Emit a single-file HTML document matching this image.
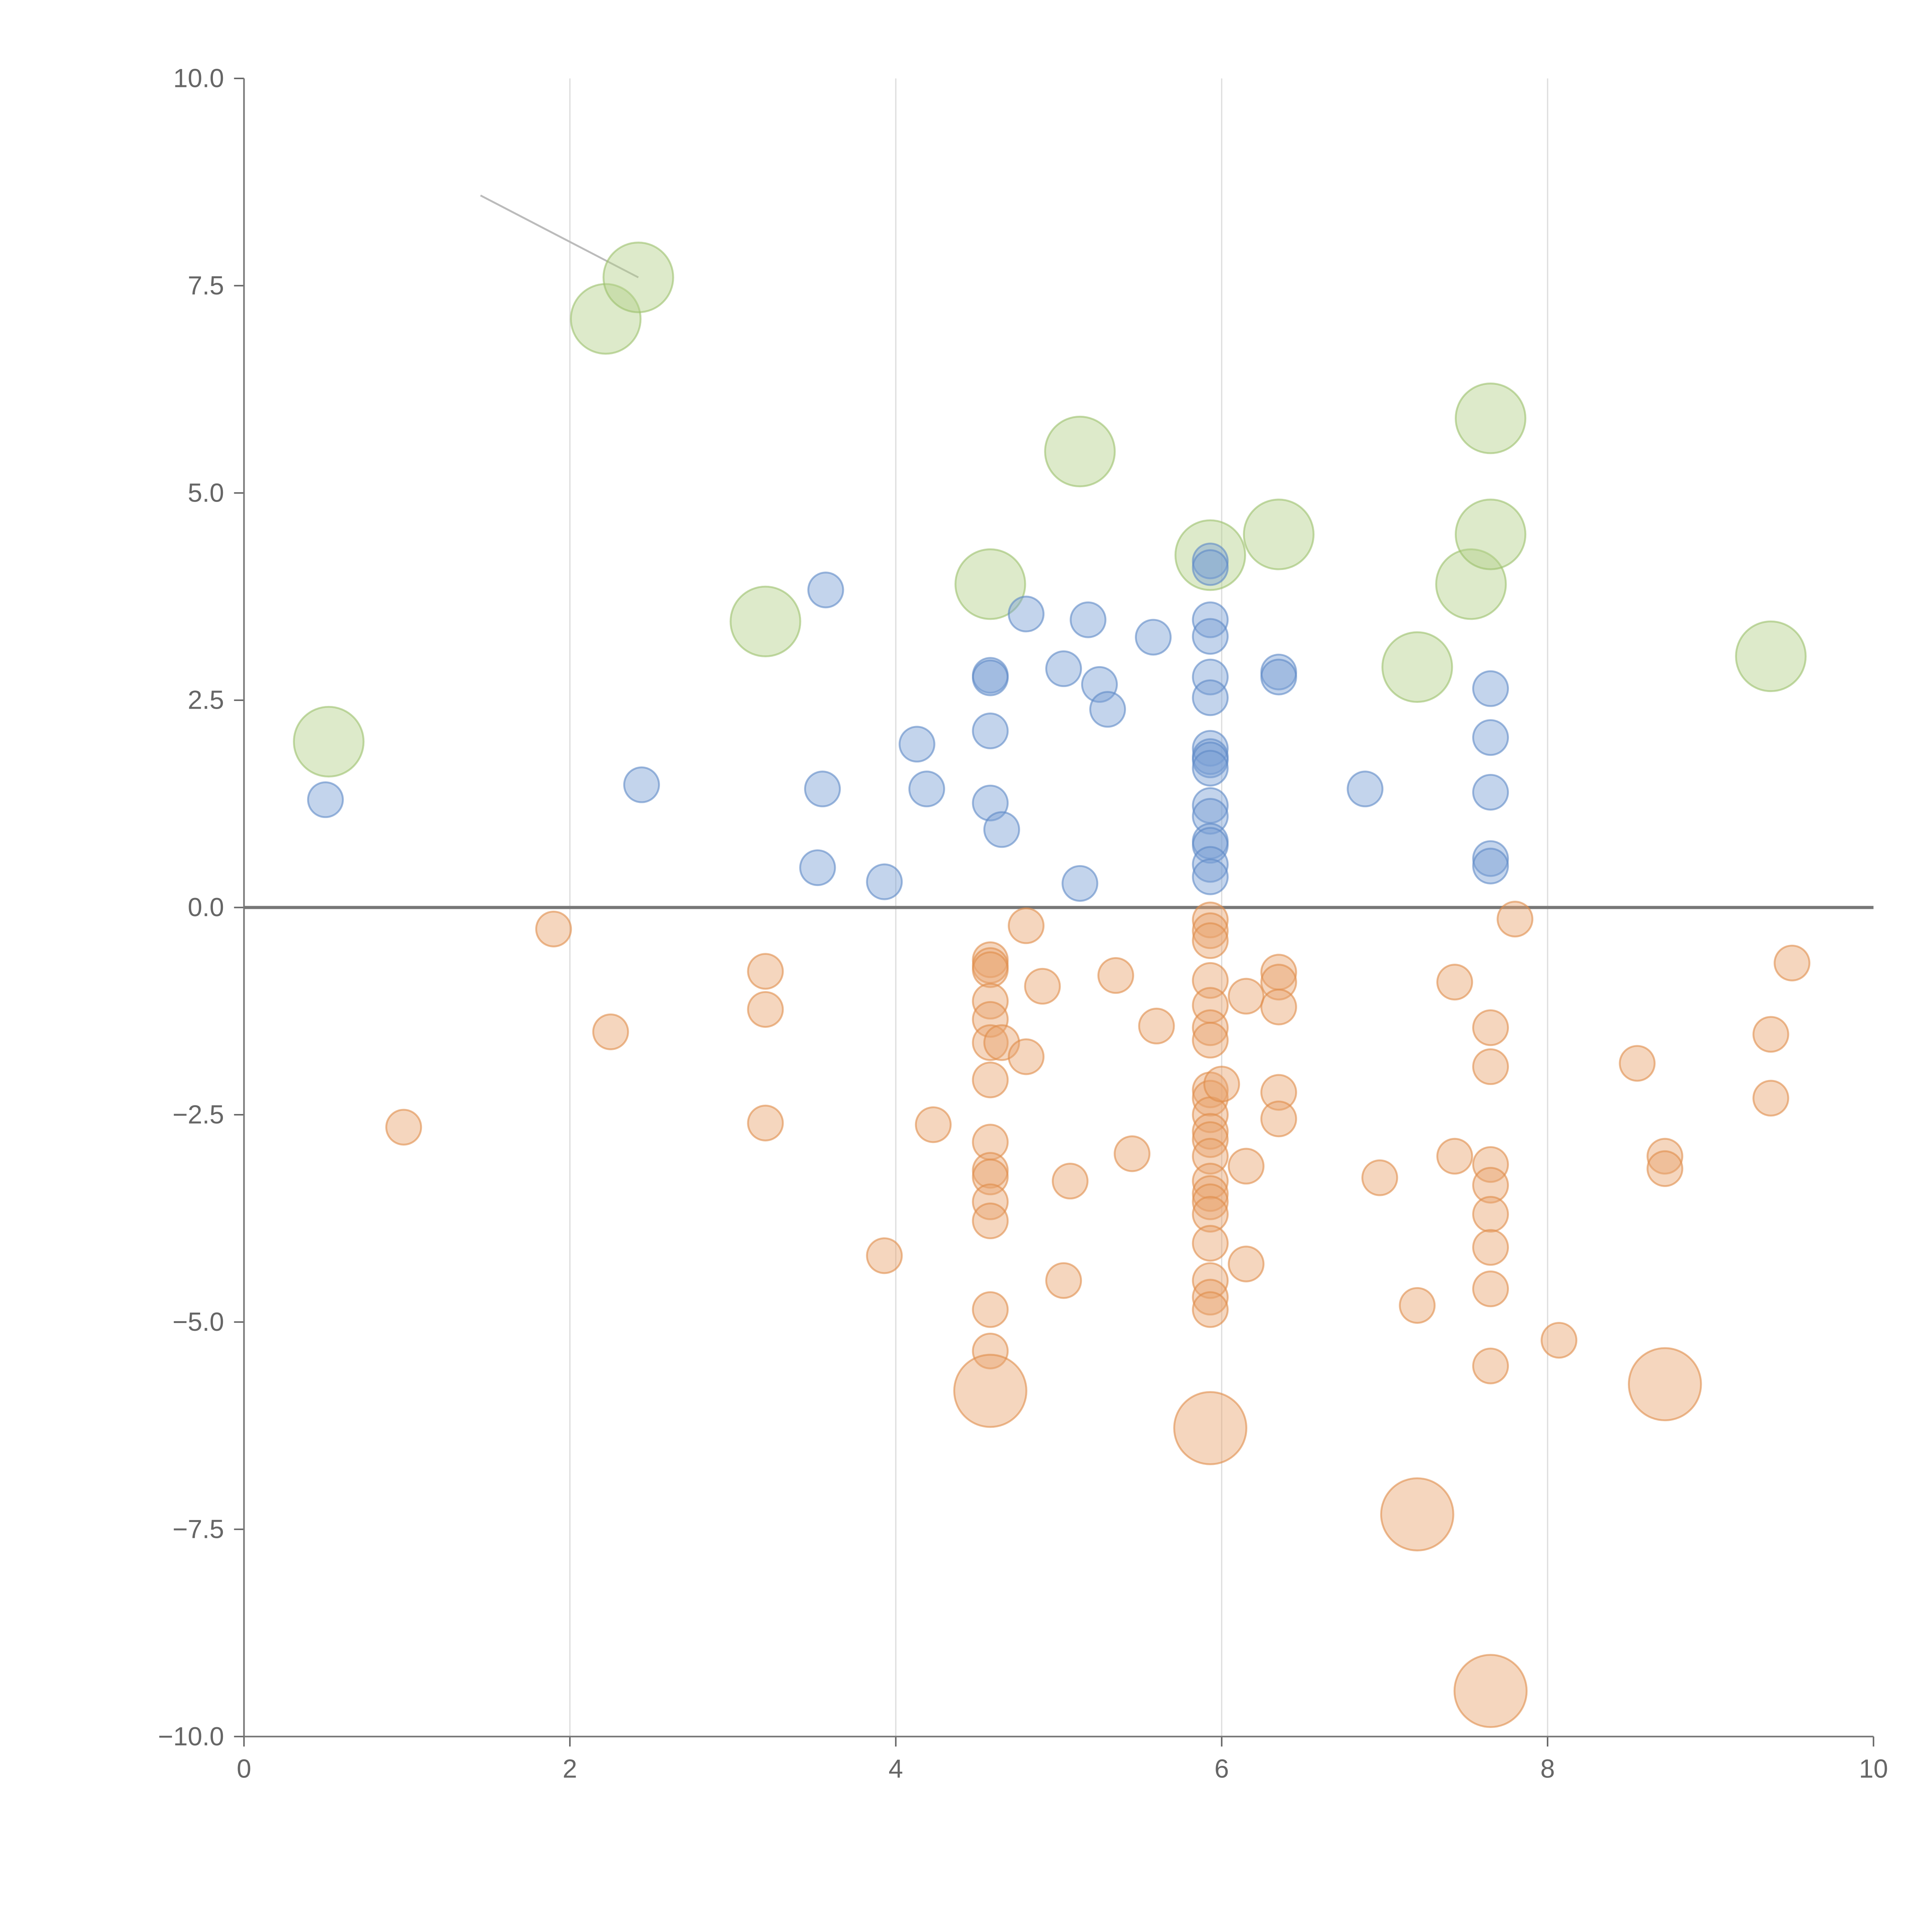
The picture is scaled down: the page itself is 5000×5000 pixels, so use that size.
<!DOCTYPE html>
<html><head><meta charset="utf-8"><style>
html,body{margin:0;padding:0;background:#fff}
svg{display:block}
text{font-family:"Liberation Sans",sans-serif;fill:#666}
</style></head><body>
<svg id="chart" width="5000" height="5000" viewBox="0 0 1552 1552" xmlns="http://www.w3.org/2000/svg">
<g id="grid"></g>
<g id="axes"></g>
<g id="marks"></g>
</svg>
<script>
const xTicks=[0,2,4,6,8,10];
const yTicks=[10,7.5,5,2.5,0,-2.5,-5,-7.5,-10];
const yTickLabels=["10.0","7.5","5.0","2.5","0.0","\u22122.5","\u22125.0","\u22127.5","\u221210.0"];
const greenX=[0.52,2.22,2.42,3.2,4.58,5.13,5.93,6.35,7.2,7.53,7.65,7.65,9.37];
const greenY=[2.0,7.1,7.6,3.45,3.9,5.5,4.25,4.5,2.9,3.9,4.5,5.9,3.03];
const blueX=[0.5,2.44,3.52,3.55,3.57,3.93,4.13,4.19,4.58,4.58,4.58,4.58,4.65,4.8,5.03,5.13,5.18,5.25,5.3,5.58,5.93,5.93,5.93,5.93,5.93,5.93,5.93,5.93,5.93,5.93,5.93,5.93,5.93,5.93,5.93,5.93,6.35,6.35,6.88,7.65,7.65,7.65,7.65,7.65];
const blueY=[1.3,1.48,0.48,1.43,3.83,0.31,1.97,1.43,2.8,2.77,2.13,1.26,0.94,3.54,2.88,0.29,3.47,2.69,2.39,3.26,4.18,4.1,3.47,3.27,2.78,2.53,1.92,1.82,1.78,1.68,1.23,1.1,0.8,0.75,0.52,0.37,2.84,2.78,1.43,2.64,2.05,1.39,0.59,0.5];
const orangeX=[1.9,0.98,2.25,3.2,3.2,3.2,3.93,4.23,4.58,4.58,4.58,4.58,4.58,4.58,4.58,4.58,4.58,4.58,4.58,4.58,4.58,4.58,4.65,4.8,4.8,4.9,5.03,5.07,5.35,5.45,5.6,5.93,5.93,5.93,5.93,5.93,5.93,5.93,5.93,5.93,5.93,5.93,5.93,5.93,5.93,5.93,5.93,5.93,5.93,5.93,5.93,5.93,6.0,6.15,6.15,6.15,6.35,6.35,6.35,6.35,6.35,6.97,7.2,7.43,7.43,7.65,7.65,7.65,7.65,7.65,7.65,7.65,7.65,7.8,8.07,8.55,8.72,8.72,9.37,9.37,9.5];
const orangeY=[-0.26,-2.65,-1.5,-0.77,-1.23,-2.6,-4.2,-2.62,-0.63,-0.7,-0.75,-1.13,-1.35,-1.63,-2.08,-2.83,-3.17,-3.25,-3.55,-3.78,-4.85,-5.35,-1.63,-0.22,-1.8,-0.95,-4.5,-3.3,-0.82,-2.97,-1.43,-0.15,-0.28,-0.4,-0.88,-1.18,-1.45,-1.6,-2.2,-2.3,-2.5,-2.7,-2.8,-3.0,-3.3,-3.45,-3.55,-3.7,-4.05,-4.5,-4.7,-4.85,-2.13,-1.07,-3.12,-4.3,-0.78,-0.9,-1.2,-2.23,-2.55,-3.26,-4.8,-0.9,-3.0,-1.45,-1.92,-3.1,-3.35,-3.7,-4.1,-4.6,-5.53,-0.14,-5.22,-1.88,-3.0,-3.15,-1.53,-2.3,-0.67];
const bigOrangeX=[4.58,5.93,7.2,7.65,8.72];
const bigOrangeY=[-5.83,-6.28,-7.32,-9.45,-5.75];

const NS="http://www.w3.org/2000/svg";
const X0=196,X1=1505,Y0=1395,Y1=63;
function sx(v){return X0+(v-0)/(10-0)*(X1-X0);}
function sy(v){return Y0-(v+10)/20*(Y0-Y1);}
function mk(tag,attrs,parent){const e=document.createElementNS(NS,tag);for(const k in attrs)e.setAttribute(k,attrs[k]);parent.appendChild(e);return e;}
const grid=document.getElementById('grid'),axes=document.getElementById('axes'),marks=document.getElementById('marks');

xTicks.forEach(t=>{
  if(t>0&&t<10){const g=mk('line',{x1:sx(t),x2:sx(t),y1:Y1,y2:Y0,stroke:'#dddddd','stroke-width':1},grid);
  
  }
  const tk=mk('line',{x1:sx(t),x2:sx(t),y1:Y0,y2:Y0+8,stroke:'#666','stroke-width':1.2},axes);
  
  
  const lb=mk('text',{x:sx(t),y:Y0+33,'text-anchor':'middle','font-size':21},axes);
  lb.textContent=t;
  
  
});
yTicks.forEach((t,i)=>{
  const tk=mk('line',{x1:X0-8,x2:X0,y1:sy(t),y2:sy(t),stroke:'#666','stroke-width':1.2},axes);
  
  
  const lb=mk('text',{x:X0-16,y:sy(t)+7,'text-anchor':'end','font-size':21},axes);
  lb.textContent=yTickLabels[i];
  
  
});
const ls=mk('line',{x1:X0,x2:X0,y1:Y1,y2:Y0,stroke:'#777','stroke-width':1.3},axes);


const bs=mk('line',{x1:X0,x2:X1,y1:Y0,y2:Y0,stroke:'#777','stroke-width':1.3},axes);


const zl=mk('line',{x1:X0,x2:X1,y1:sy(0),y2:sy(0),stroke:'#777','stroke-width':2.5},axes);


const ann=mk('line',{x1:386,y1:157,x2:sx(2.42),y2:sy(7.6),stroke:'#bbb','stroke-width':1.5},axes);



function series(xs,ys,r,fill,stroke,name){
  xs.forEach((x,i)=>{
    const c=mk('circle',{cx:sx(x),cy:sy(ys[i]),r:r,fill:fill,'fill-opacity':0.45,stroke:stroke,'stroke-opacity':0.6,'stroke-width':1.5},marks);
    
    
  });
}
series(greenX,greenY,28,'#b3d089','#9bbf6a','green-bubble');
series(blueX,blueY,14,'#7a9fd4','#5d88c6','blue-bubble');
series(orangeX,orangeY,14,'#e9a56f','#e08c4a','orange-bubble');
series(bigOrangeX,bigOrangeY,29,'#e9a56f','#e08c4a','orange-large-bubble');
</script>
</body></html>
